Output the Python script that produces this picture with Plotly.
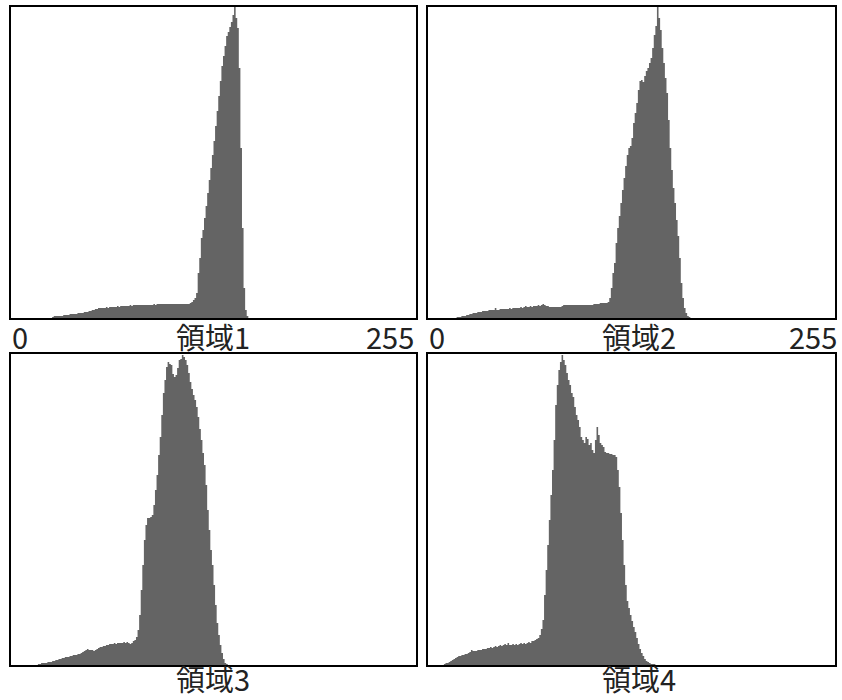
import plotly.graph_objects as go

# Gray-level bins 0..255
bins = list(range(256))

# Region 1 histogram (relative counts)
region1 = ([0]*26 +
    [1, 2, 2, 2, 2, 2, 2, 3, 3, 3,
     3, 4, 4, 4, 4, 4, 5, 5, 5, 5,
     6, 6, 6, 7, 7, 8, 8, 9, 9, 10,
     10, 10, 10, 10, 11, 10, 11, 11, 11, 11,
     11, 12, 11, 12, 12, 12, 12, 12, 12, 13,
     12, 13, 13, 13, 13, 13, 13, 13, 13, 13,
     13, 13, 13, 13, 14, 13, 14, 14, 14, 14,
     14, 14, 14, 14, 14, 14, 14, 14, 14, 14,
     14, 14, 14, 14, 14, 14, 14, 15, 16, 18,
     20, 25, 45, 60, 80, 88, 100, 112, 125, 138,
     150, 163, 177, 192, 207, 222, 237, 252, 262, 272,
     282, 286, 291, 296, 303, 311, 300, 290, 250, 170,
     90, 30, 8, 2] +
    [0]*106)

# Region 2 histogram
region2 = ([0]*18 +
    [1, 1, 1, 2, 2, 2, 3, 3, 4, 4,
     5, 5, 5, 6, 6, 6, 7, 7, 7, 7,
     8, 8, 8, 8, 10, 8, 8, 9, 9, 9,
     9, 9, 9, 10, 9, 10, 10, 10, 10, 10,
     11, 10, 11, 12, 11, 11, 12, 11, 12, 12,
     12, 13, 12, 13, 14, 13, 12, 12, 11, 11,
     11, 11, 11, 11, 11, 11, 12, 13, 13, 13,
     13, 13, 13, 13, 13, 13, 13, 13, 13, 13,
     13, 13, 13, 13, 13, 13, 14, 14, 14, 14,
     15, 15, 15, 15, 15, 16,
     20, 30, 45, 55, 75, 90, 102, 115, 128, 140,
     152, 163, 170, 172, 180, 195, 205, 215, 228, 237,
     238, 236, 242, 247, 250, 255, 260, 270, 283, 292,
     311, 300, 288, 270, 255, 240, 225, 198, 170, 148,
     130, 115, 98, 82, 60, 35, 20, 10, 5, 2,
     1] +
    [0]*90)

# Region 3 histogram
region3 = ([0]*17 +
    [1, 1, 2, 2, 2, 2, 3, 3, 3, 4,
     4, 5, 5, 6, 6, 7, 7, 8, 8, 8,
     9, 9, 10, 10, 10, 11, 11, 12, 13, 14,
     15, 16, 15, 15, 15, 14, 15, 16, 17, 18,
     18, 19, 19, 20, 20, 21, 21, 21, 22, 21,
     22, 22, 22, 22, 23, 22, 23, 22, 21, 22,
     24, 25, 28, 35, 50, 75, 100, 125, 140, 147,
     147, 148, 150, 160, 175, 190, 210, 228, 250, 272,
     285, 298, 303, 301, 300, 291, 288, 290, 297, 305,
     306, 310, 308, 305, 300, 292, 283, 276, 270, 265,
     258, 248, 236, 225, 212, 200, 180, 155, 135, 115,
     100, 80, 60, 42, 30, 20, 12, 6, 2, 1] +
    [0]*119)

# Region 4 histogram
region4 = ([0]*10 +
    [1, 2, 2, 3, 4, 5, 6, 7, 8, 9,
     9, 10, 10, 11, 11, 12, 13, 15, 14, 14,
     14, 15, 15, 15, 16, 16, 16, 17, 17, 18,
     17, 18, 19, 18, 19, 20, 19, 20, 21, 20,
     22, 20, 20, 21, 20, 21, 20, 21, 22, 21,
     22, 21, 22, 23, 22, 24, 24, 25, 26, 27,
     30, 36, 45, 70, 95, 120, 145, 170, 195, 225,
     260, 280, 295, 303, 310, 305, 300, 292, 285, 280,
     272, 268, 258, 250, 245, 238, 228, 225, 222, 228,
     226, 220, 222, 215, 212, 225, 238, 230, 222, 220,
     218, 213, 212, 212, 211, 211, 210, 210, 208, 195,
     178, 152, 125, 100, 80, 64, 57, 50, 44, 38,
     33, 27, 21, 16, 12, 9, 6, 4, 3, 2,
     1, 1, 1] +
    [0]*113)

region_labels = ["領域1", "領域2", "領域3", "領域4"]
axis_tick_labels = ["0", "255"]

W, H = 842, 700
# panel boxes in pixels: (left, right, top, bottom)
boxes = [(11, 416, 7, 318), (428, 835, 7, 318),
         (11, 416, 354, 665), (428, 835, 354, 665)]
series = [region1, region2, region3, region4]
ymax = max(max(s) for s in series)

fig = go.Figure()
layout = dict(width=W, height=H, margin=dict(l=0, r=0, t=0, b=0),
              paper_bgcolor="white", plot_bgcolor="white", showlegend=False,
              font=dict(family="Noto Sans CJK JP", color="#222222"))
annotations = []
for i, (vals, box) in enumerate(zip(series, boxes)):
    n = i + 1
    xa = "x" if n == 1 else f"x{n}"
    ya = "y" if n == 1 else f"y{n}"
    fig.add_trace(go.Scatter(x=bins, y=vals, mode="lines", line=dict(width=0, color="#646464", shape="hvh"),
                             fill="tozeroy", fillcolor="#646464", xaxis=xa, yaxis=ya, hoverinfo="skip"))
    l, r, t, b = box
    axcommon = dict(showgrid=False, zeroline=False, showticklabels=False, ticks="",
                    showline=True, mirror=True, linecolor="black", linewidth=2)
    layout["xaxis" if n == 1 else f"xaxis{n}"] = dict(domain=[l / W, r / W], range=[-0.5, 255.5],
                                                      anchor=ya, **axcommon)
    layout["yaxis" if n == 1 else f"yaxis{n}"] = dict(domain=[1 - b / H, 1 - t / H], range=[0, ymax],
                                                      anchor=xa, **axcommon)

# labels: top row centred under panels, bottom row anchored to the page bottom
top_centers = [(213, 336), (639, 336)]
for lab, (cx, cy) in zip(region_labels[:2], top_centers):
    annotations.append(dict(text=lab, x=cx / W, y=1 - cy / H, xref="paper", yref="paper",
                            xanchor="center", yanchor="middle", showarrow=False,
                            font=dict(size=29)))
for lab, cx in zip(region_labels[2:], [213, 639]):
    annotations.append(dict(text=lab, x=cx / W, y=0, xref="paper", yref="paper",
                            xanchor="center", yanchor="bottom", showarrow=False,
                            font=dict(size=29), borderpad=0))
for (l, r, t, b), rx in [(boxes[0], 416), (boxes[1], 839)]:
    annotations.append(dict(text=axis_tick_labels[0], x=(l - 1) / W, y=1 - 336 / H, xref="paper", yref="paper",
                            xanchor="left", yanchor="middle", showarrow=False, font=dict(size=29)))
    annotations.append(dict(text=axis_tick_labels[1], x=rx / W, y=1 - 336 / H, xref="paper", yref="paper",
                            xanchor="right", yanchor="middle", showarrow=False, font=dict(size=29)))
layout["annotations"] = annotations
fig.update_layout(**layout)
fig.write_html("out.html", config={"displayModeBar": False},
               post_script="document.body.style.margin='0';document.body.style.overflow='hidden';")
